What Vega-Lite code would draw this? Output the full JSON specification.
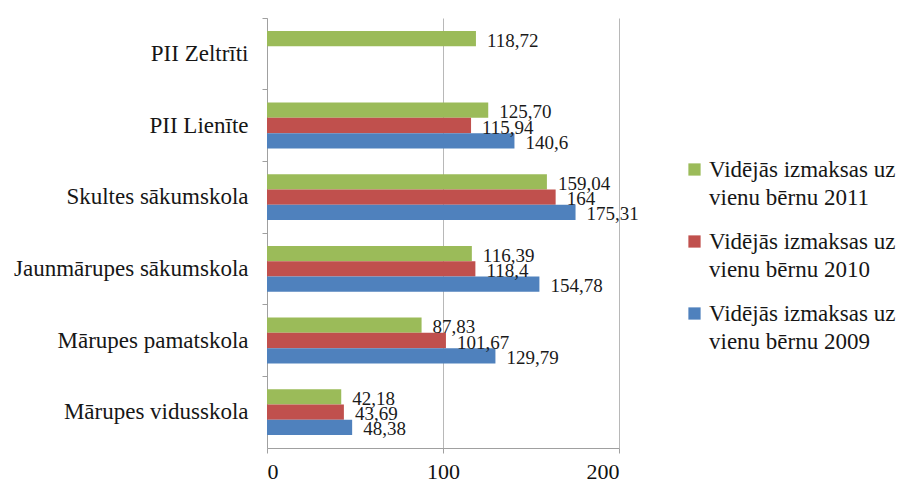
{
  "$schema": "https://vega.github.io/schema/vega-lite/v6.json",
  "width": 352,
  "height": 430,
  "autosize": "none",
  "padding": {"left": 267, "top": 18, "right": 278, "bottom": 36},
  "background": "white",
  "config": {
    "view": {"stroke": null},
    "font": "Liberation Serif"
  },
  "data": {
    "values": [
      {"skola": "PII Zeltrīti", "gads": "Vidējās izmaksas uz vienu bērnu 2011", "vertiba": 118.72, "teksts": "118,72"},
      {"skola": "PII Lienīte", "gads": "Vidējās izmaksas uz vienu bērnu 2011", "vertiba": 125.70, "teksts": "125,70"},
      {"skola": "PII Lienīte", "gads": "Vidējās izmaksas uz vienu bērnu 2010", "vertiba": 115.94, "teksts": "115,94"},
      {"skola": "PII Lienīte", "gads": "Vidējās izmaksas uz vienu bērnu 2009", "vertiba": 140.6, "teksts": "140,6"},
      {"skola": "Skultes sākumskola", "gads": "Vidējās izmaksas uz vienu bērnu 2011", "vertiba": 159.04, "teksts": "159,04"},
      {"skola": "Skultes sākumskola", "gads": "Vidējās izmaksas uz vienu bērnu 2010", "vertiba": 164, "teksts": "164"},
      {"skola": "Skultes sākumskola", "gads": "Vidējās izmaksas uz vienu bērnu 2009", "vertiba": 175.31, "teksts": "175,31"},
      {"skola": "Jaunmārupes sākumskola", "gads": "Vidējās izmaksas uz vienu bērnu 2011", "vertiba": 116.39, "teksts": "116,39"},
      {"skola": "Jaunmārupes sākumskola", "gads": "Vidējās izmaksas uz vienu bērnu 2010", "vertiba": 118.4, "teksts": "118,4"},
      {"skola": "Jaunmārupes sākumskola", "gads": "Vidējās izmaksas uz vienu bērnu 2009", "vertiba": 154.78, "teksts": "154,78"},
      {"skola": "Mārupes pamatskola", "gads": "Vidējās izmaksas uz vienu bērnu 2011", "vertiba": 87.83, "teksts": "87,83"},
      {"skola": "Mārupes pamatskola", "gads": "Vidējās izmaksas uz vienu bērnu 2010", "vertiba": 101.67, "teksts": "101,67"},
      {"skola": "Mārupes pamatskola", "gads": "Vidējās izmaksas uz vienu bērnu 2009", "vertiba": 129.79, "teksts": "129,79"},
      {"skola": "Mārupes vidusskola", "gads": "Vidējās izmaksas uz vienu bērnu 2011", "vertiba": 42.18, "teksts": "42,18"},
      {"skola": "Mārupes vidusskola", "gads": "Vidējās izmaksas uz vienu bērnu 2010", "vertiba": 43.69, "teksts": "43,69"},
      {"skola": "Mārupes vidusskola", "gads": "Vidējās izmaksas uz vienu bērnu 2009", "vertiba": 48.38, "teksts": "48,38"}
    ]
  },
  "encoding": {
    "y": {
      "field": "skola",
      "type": "nominal",
      "sort": ["PII Zeltrīti", "PII Lienīte", "Skultes sākumskola", "Jaunmārupes sākumskola", "Mārupes pamatskola", "Mārupes vidusskola"],
      "scale": {"paddingInner": 0.36, "paddingOuter": 0.18},
      "title": null
    },
    "yOffset": {
      "field": "gads",
      "type": "nominal",
      "sort": ["Vidējās izmaksas uz vienu bērnu 2011", "Vidējās izmaksas uz vienu bērnu 2010", "Vidējās izmaksas uz vienu bērnu 2009"],
      "scale": {"paddingInner": 0, "paddingOuter": 0}
    },
    "x": {
      "field": "vertiba",
      "type": "quantitative",
      "scale": {"domain": [0, 200], "nice": false},
      "title": null,
      "axis": {
        "values": [0, 100, 200],
        "grid": true,
        "gridColor": "#b8b8b8",
        "domainColor": "#a0a0a0",
        "tickColor": "#a0a0a0",
        "tickSize": 5,
        "labelPadding": 8,
        "labelFontSize": 22,
        "labelColor": "#111111",
        "labelBaseline": "top",
        "labelFont": "Liberation Serif"
      }
    }
  },
  "layer": [
    {
      "mark": {"type": "bar"},
      "encoding": {
        "y": {
          "field": "skola",
          "type": "nominal",
          "sort": ["PII Zeltrīti", "PII Lienīte", "Skultes sākumskola", "Jaunmārupes sākumskola", "Mārupes pamatskola", "Mārupes vidusskola"],
          "title": null,
          "axis": {
            "orient": "left",
            "ticks": false,
            "domain": true,
            "domainColor": "#a0a0a0",
            "labelPadding": 19,
            "labelFontSize": 23,
            "labelColor": "#161616",
            "labelFont": "Liberation Serif",
            "labelLimit": 300
          }
        },
        "color": {
          "field": "gads",
          "type": "nominal",
          "sort": ["Vidējās izmaksas uz vienu bērnu 2011", "Vidējās izmaksas uz vienu bērnu 2010", "Vidējās izmaksas uz vienu bērnu 2009"],
          "scale": {"range": ["#9bbb59", "#c0504d", "#4f81bd"]},
          "legend": {
            "title": null,
            "orient": "none",
            "legendX": 416,
            "legendY": 140,
            "symbolType": "square",
            "symbolSize": 150,
            "symbolStrokeWidth": 0,
            "labelFontSize": 23,
            "labelFont": "Liberation Serif",
            "labelColor": "#161616",
            "labelLimit": 300,
            "labelOffset": 3,
            "rowPadding": 20,
            "labelExpr": "['Vidējās izmaksas uz', 'vienu bērnu ' + slice(datum.label, -4)]",
            "encode": {"labels": {"update": {"lineHeight": {"value": 28}}}}
          }
        }
      }
    },
    {
      "mark": {"type": "text", "align": "left", "baseline": "middle", "dx": 11, "dy": 2, "fontSize": 19, "font": "Liberation Serif", "color": "#1a1a1a"},
      "encoding": {
        "text": {"field": "teksts"},
        "y": {
          "field": "skola",
          "type": "nominal",
          "sort": ["PII Zeltrīti", "PII Lienīte", "Skultes sākumskola", "Jaunmārupes sākumskola", "Mārupes pamatskola", "Mārupes vidusskola"],
          "title": null,
          "axis": {
            "orient": "left",
            "labels": false,
            "domain": false,
            "ticks": true,
            "tickSize": 5,
            "tickColor": "#a0a0a0",
            "bandPosition": -0.28
          }
        }
      }
    }
  ],
  "resolve": {"axis": {"y": "independent"}}
}
